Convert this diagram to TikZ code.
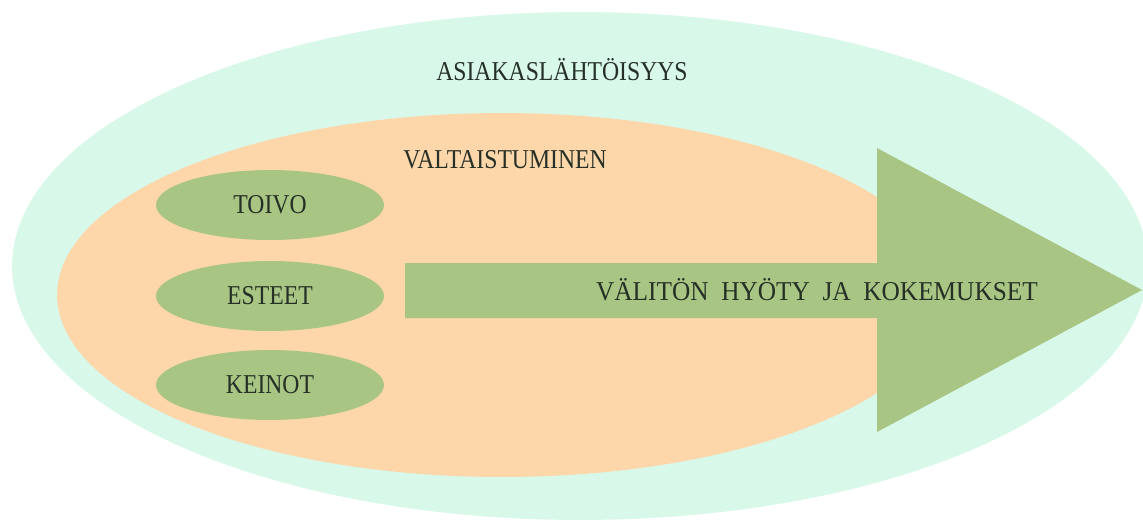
\documentclass[tikz,border=0pt]{standalone}
\usepackage{fontspec}
\setmainfont{Liberation Serif}
\usepackage{graphicx}
\usepackage{tikz}
\usetikzlibrary{shapes.geometric}
\definecolor{figMint}{RGB}{216,248,234}
\definecolor{figPeach}{RGB}{253,214,170}
\definecolor{figSage}{RGB}{168,197,132}
\definecolor{figInk}{RGB}{38,48,38}
\newcommand{\slim}[1]{\scalebox{0.87}[1]{#1}}
\tikzset{oval/.style={ellipse, inner sep=0pt, draw=none},
  lbl/.style={font=\fontsize{15.5}{18}\selectfont, text=figInk}}

\begin{document}
\begin{tikzpicture}[x=0.02cm, y=-0.02cm]
\useasboundingbox (0,0) rectangle (1143,522);
% Outer and inner regions
\node[oval, fill=figMint, minimum width=22.72cm, minimum height=10.16cm] (asiakas) at (580,266) {};
\node[oval, fill=figPeach, minimum width=17.8cm, minimum height=7.28cm] (valta) at (502,295) {};
\node[lbl, anchor=base] (asiakaslbl) at (562,80) {\slim{ASIAKASLÄHTÖISYYS}};
\node[lbl, anchor=base] (valtalbl) at (505,168) {\slim{VALTAISTUMINEN}};
% Three themes on the left
\node[oval, lbl, fill=figSage, minimum width=4.56cm, minimum height=1.4cm] (toivo) at (270,205) {\slim{TOIVO}};
\node[oval, lbl, fill=figSage, minimum width=4.56cm, minimum height=1.4cm] (esteet) at (270,296) {\slim{ESTEET}};
\node[oval, lbl, fill=figSage, minimum width=4.56cm, minimum height=1.4cm] (keinot) at (270,385) {\slim{KEINOT}};
% Big arrow
\coordinate (tail) at (405,290.5);
\coordinate (tip) at (1142,290);
\fill[figSage] (405,263) -- (877,263) -- (877,148) -- (tip) -- (877,432) -- (877,318) -- (405,318) -- cycle;
\node[lbl, anchor=base] (hyoty) at (817,300) {\scalebox{0.93}[1]{VÄLITÖN\ \ HYÖTY\ \ JA\ \ KOKEMUKSET}};
\end{tikzpicture}
\end{document}
